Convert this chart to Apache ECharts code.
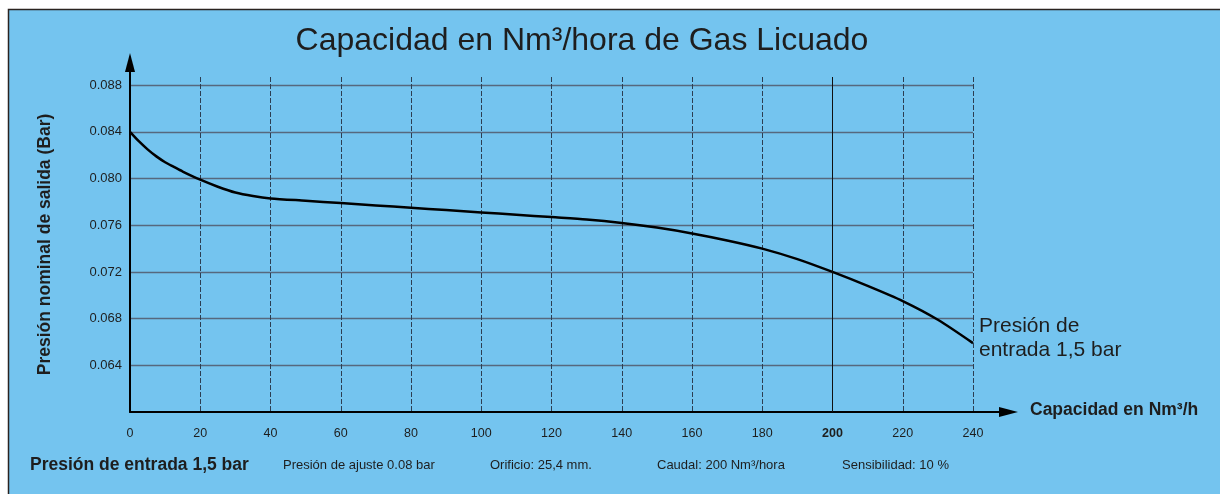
<!DOCTYPE html>
<html>
<head>
<meta charset="utf-8">
<script src="https://cdn.jsdelivr.net/npm/echarts@6/dist/echarts.min.js"></script>
<style>
  html, body { margin: 0; padding: 0; background: #fff; }
  #chart { width: 1220px; height: 494px; }
</style>
</head>
<body>
<div id="chart"></div>
<script>
// capacidad (Nm3/h) y presion de salida (bar)
const capacidad = [0, 2.5, 5, 7.5, 10, 12.5, 15, 20, 25, 30, 35, 40, 50, 60, 70, 80, 90, 100, 110, 120, 130, 140, 150, 160, 170, 180, 190, 200, 210, 220, 230, 240]
const presion = [0.0840, 0.0832, 0.0825, 0.0819, 0.0814, 0.0810, 0.0806, 0.0799, 0.0793, 0.0788, 0.0785, 0.0783, 0.0781, 0.0779, 0.0777, 0.0775, 0.0773, 0.0771, 0.0769, 0.0767, 0.0765, 0.0762, 0.0758, 0.0753, 0.0747, 0.0740, 0.0731, 0.0720, 0.0708, 0.0695, 0.0679, 0.0659]
const yTicks = ['0.064', '0.068', '0.072', '0.076', '0.080', '0.084', '0.088']
const xTicks = [0, 20, 40, 60, 80, 100, 120, 140, 160, 180, 200, 220, 240]
const notas = ['Presión de ajuste 0.08 bar', 'Orificio: 25,4 mm.', 'Caudal: 200 Nm³/hora', 'Sensibilidad: 10 %']
const notasX = [283, 490, 657, 842]

const FONT = '"Liberation Sans", Arial, sans-serif'
const INK = '#1e1e1e'

const chart = echarts.init(document.getElementById('chart'))

const option = {
    backgroundColor: '#ffffff',
    animation: false,
    textStyle: { fontFamily: FONT },
    title: {
        text: 'Capacidad en Nm³/hora de Gas Licuado',
        left: 577,
        textAlign: 'center',
        top: 20,
        textStyle: { fontSize: 32, fontWeight: 'normal', color: INK, fontFamily: FONT }
    },
    grid: { left: 130, right: 247, top: 77, bottom: 82, containLabel: false },
    xAxis: {
        type: 'value',
        min: 0,
        max: 240,
        interval: 20,
        axisLine: { show: true, onZero: false, lineStyle: { color: '#000', width: 2 } },
        axisTick: { show: false },
        axisLabel: {
            margin: 15,
            fontSize: 12.5,
            color: INK,
            fontFamily: FONT,
            formatter: function (v) {
                if (xTicks.indexOf(v) < 0) return ''
                return v === 200 ? '{b|200}' : String(v)
            },
            rich: { b: { fontWeight: 'bold', fontSize: 12.5, color: INK, fontFamily: FONT } }
        },
        splitLine: {
            show: true,
            showMinLine: false,
            lineStyle: { color: '#2c3e52', width: 1, type: [5, 2] }
        }
    },
    yAxis: {
        type: 'value',
        min: 0.060,
        max: 0.0887,
        interval: 0.004,
        axisLine: { show: true, onZero: false, lineStyle: { color: '#000', width: 2 } },
        axisTick: { show: false },
        axisLabel: {
            margin: 8,
            fontSize: 13,
            color: INK,
            fontFamily: FONT,
            formatter: function (v) {
                const s = v.toFixed(3)
                return yTicks.indexOf(s) >= 0 ? s : ''
            }
        },
        name: 'Presión nominal de salida (Bar)',
        nameLocation: 'middle',
        nameGap: 76,
        nameTextStyle: { fontSize: 17.5, fontWeight: 'bold', color: INK, fontFamily: FONT },
        splitLine: {
            show: true,
            showMinLine: false,
            showMaxLine: false,
            lineStyle: { color: '#56687e', width: 1.3 }
        }
    },
    series: [
        {
            type: 'line',
            data: capacidad.map((c, i) => [c, presion[i]]),
            smooth: 0.25,
            showSymbol: false,
            lineStyle: { color: '#000', width: 2.5 },
            endLabel: {
                show: true,
                distance: 6,
                formatter: 'Presión de\nentrada 1,5 bar',
                fontSize: 21,
                lineHeight: 24,
                color: INK,
                fontFamily: FONT,
                offset: [0, -5]
            },
            markLine: {
                silent: true,
                symbol: 'none',
                label: { show: false },
                lineStyle: { color: '#111', width: 1, type: 'solid' },
                data: [{ xAxis: 200 }]
            }
        }
    ]
}
chart.setOption(option)

// decorados: fondo, flechas de los ejes y textos del pie
const o = chart.convertToPixel({ gridIndex: 0 }, [0, 0.060])
const e = chart.convertToPixel({ gridIndex: 0 }, [240, 0.0887])
const yTop = 53
const xEnd = 1018

const graphics = [
    {
        type: 'rect', z: -10, silent: true,
        shape: { x: 8.5, y: 9.5, width: 1230, height: 500 },
        style: { fill: '#74c4ef', stroke: '#2a2320', lineWidth: 1.5 }
    },
    {
        type: 'line', z: 10, silent: true,
        shape: { x1: o[0], y1: e[1] + 1, x2: o[0], y2: yTop + 16 },
        style: { stroke: '#000', lineWidth: 2 }
    },
    {
        type: 'polygon', z: 10, silent: true,
        shape: { points: [[o[0], yTop], [o[0] - 5, yTop + 19], [o[0] + 5, yTop + 19]] },
        style: { fill: '#000' }
    },
    {
        type: 'line', z: 10, silent: true,
        shape: { x1: e[0] - 1, y1: o[1], x2: xEnd - 16, y2: o[1] },
        style: { stroke: '#000', lineWidth: 2 }
    },
    {
        type: 'polygon', z: 10, silent: true,
        shape: { points: [[xEnd, o[1]], [xEnd - 19, o[1] - 5], [xEnd - 19, o[1] + 5]] },
        style: { fill: '#000' }
    },
    {
        type: 'text', z: 10, silent: true,
        left: 1030, top: o[1] - 11,
        style: { text: 'Capacidad en Nm³/h', fontSize: 17.5, fontWeight: 'bold', fill: INK, fontFamily: FONT }
    },
    {
        type: 'text', z: 10, silent: true,
        left: 30, top: 456,
        style: { text: 'Presión de entrada 1,5 bar', fontSize: 17.5, fontWeight: 'bold', fill: INK, fontFamily: FONT }
    }
]
notas.forEach((t, i) => {
    graphics.push({
        type: 'text', z: 10, silent: true,
        left: notasX[i], top: 459,
        style: { text: t, fontSize: 13, fill: INK, fontFamily: FONT }
    })
})
chart.setOption({ graphic: graphics })
</script>
</body>
</html>
